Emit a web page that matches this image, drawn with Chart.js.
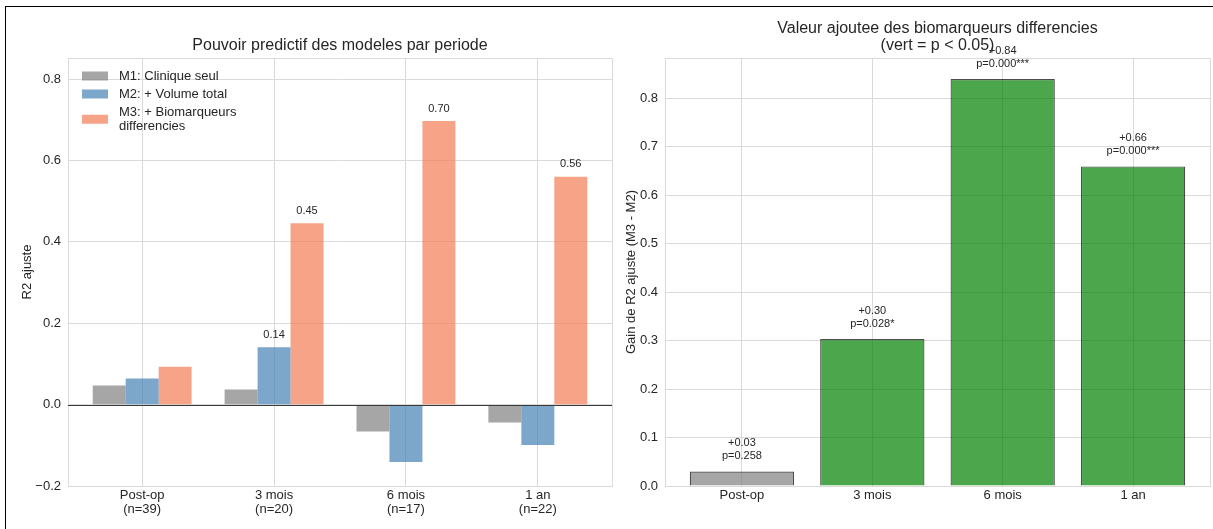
<!DOCTYPE html>
<html lang="fr">
<head>
<meta charset="UTF-8">
<title>Pouvoir predictif et valeur ajoutee</title>
<script src="https://cdn.jsdelivr.net/npm/chart.js"></script>
<style>
  body { margin: 0; background: #fff; width: 1213px; height: 529px; overflow: hidden; position: relative; }
  .cadre { position: absolute; left: 5px; top: 6px; width: 1240px; height: 560px; border: 1px solid #000; }
  #graphGauche { position: absolute; left: 0; top: 0; }
  #graphDroite { position: absolute; left: 615px; top: 0; }
</style>
</head>
<body>
<div class="cadre"></div>
<canvas id="graphGauche" width="615" height="529"></canvas>
<canvas id="graphDroite" width="598" height="529"></canvas>

<script>
// donnees
const periodes = ['Post-op', '3 mois', '6 mois', '1 an'];
const effectifs = ['(n=39)', '(n=20)', '(n=17)', '(n=22)'];
const r2Clinique = [0.047, 0.037, -0.066, -0.044];
const r2Volume = [0.064, 0.141, -0.141, -0.099];
const r2Biomarqueurs = [0.093, 0.446, 0.697, 0.560];
const gainR2 = [0.030, 0.303, 0.839, 0.659];
const pValeurs = [0.258, 0.028, 0.000, 0.000];
const ticksGauche = [-0.2, 0.0, 0.2, 0.4, 0.6, 0.8];
const ticksDroite = [0.0, 0.1, 0.2, 0.3, 0.4, 0.5, 0.6, 0.7, 0.8];

const POLICE = '"Liberation Sans", Arial, sans-serif';
const TEXTE = '#262626';
const GRILLE = '#dadada';
Chart.defaults.font.family = POLICE;
Chart.defaults.color = TEXTE;

function etoiles(p) {
    if (p < 0.001) return '***';
    if (p < 0.01) return '**';
    if (p < 0.05) return '*';
    return '';
}

// cadre haut + droite du graphique (les axes font gauche + bas)
const cadrePlugin = {
    id: 'cadre',
    beforeDatasetsDraw(chart) {
        const { ctx, chartArea: a } = chart;
        ctx.save();
        ctx.strokeStyle = GRILLE;
        ctx.lineWidth = 1;
        ctx.beginPath();
        ctx.moveTo(a.left, a.top + 0.5);
        ctx.lineTo(a.right + 0.5, a.top + 0.5);
        ctx.lineTo(a.right + 0.5, a.bottom);
        ctx.stroke();
        ctx.restore();
    }
};

// ---------- graphique de gauche ----------
const gauchePlugin = {
    id: 'gaucheExtras',
    afterDatasetsDraw(chart) {
        const { ctx, chartArea: a, scales } = chart;
        ctx.save();
        // ligne du zero
        const y0 = Math.round(scales.y.getPixelForValue(0)) + 0.5;
        ctx.strokeStyle = '#3a3a3a';
        ctx.lineWidth = 1;
        ctx.beginPath();
        ctx.moveTo(a.left, y0);
        ctx.lineTo(a.right, y0);
        ctx.stroke();

        // valeurs au-dessus des barres > 0.1
        ctx.font = '11px ' + POLICE;
        ctx.fillStyle = TEXTE;
        ctx.textAlign = 'center';
        ctx.textBaseline = 'bottom';
        chart.data.datasets.forEach((ds, i) => {
            const meta = chart.getDatasetMeta(i);
            meta.data.forEach((bar, j) => {
                const v = ds.data[j].y;
                if (v > 0.1) ctx.fillText(v.toFixed(2), bar.x, bar.y - 7);
            });
        });

        // titre
        ctx.font = '16px ' + POLICE;
        ctx.textBaseline = 'middle';
        ctx.fillText('Pouvoir predictif des modeles par periode', (a.left + a.right) / 2, 46);

        // legende
        const entrees = [
            { c: chart.data.datasets[0].backgroundColor, l: ['M1: Clinique seul'] },
            { c: chart.data.datasets[1].backgroundColor, l: ['M2: + Volume total'] },
            { c: chart.data.datasets[2].backgroundColor, l: ['M3: + Biomarqueurs', 'differencies'] }
        ];
        ctx.font = '13px ' + POLICE;
        ctx.textAlign = 'left';
        let y = 76;
        entrees.forEach(e => {
            const h = e.l.length * 14.5;
            const yc = y + (e.l.length - 1) * 7.25;
            ctx.fillStyle = e.c;
            ctx.fillRect(a.left + 14, yc - 4.5, 26, 9);
            ctx.fillStyle = TEXTE;
            e.l.forEach((t, k) => ctx.fillText(t, a.left + 51, y + k * 14.5));
            y += h + 3.5;
        });
        ctx.restore();
    }
};

function versPoints(valeurs) {
    return valeurs.map((v, i) => ({ x: i, y: v }));
}

new Chart(document.getElementById('graphGauche'), {
    type: 'bar',
    data: {
        datasets: [
            { label: 'M1: Clinique seul', data: versPoints(r2Clinique), backgroundColor: 'rgba(128,128,128,0.7)' },
            { label: 'M2: + Volume total', data: versPoints(r2Volume), backgroundColor: 'rgba(70,130,180,0.7)' },
            { label: 'M3: + Biomarqueurs differencies', data: versPoints(r2Biomarqueurs), backgroundColor: 'rgba(244,124,84,0.7)' }
        ]
    },
    options: {
        responsive: false,
        animation: false,
        categoryPercentage: 0.75,
        barPercentage: 1.0,
        borderWidth: 0,
        layout: { padding: { left: 0, right: 3, top: 58, bottom: 0 } },
        plugins: { legend: { display: false }, tooltip: { enabled: false } },
        scales: {
            x: {
                type: 'linear',
                min: -0.5625,
                max: 3.5625,
                offset: false,
                afterBuildTicks: s => { s.ticks = periodes.map((p, i) => ({ value: i })); },
                afterFit: s => { s.height = 43; },
                ticks: {
                    autoSkip: false,
                    maxRotation: 0,
                    padding: 2,
                    font: { size: 13, lineHeight: 1.08 },
                    callback: v => [periodes[v], effectifs[v]]
                },
                grid: { color: GRILLE, drawTicks: false, offset: false },
                border: { color: GRILLE }
            },
            y: {
                min: -0.2,
                max: 0.852,
                afterBuildTicks: s => { s.ticks = ticksGauche.map(v => ({ value: v })); },
                afterFit: s => { s.width = 68; },
                ticks: {
                    padding: 7,
                    font: { size: 13 },
                    callback: v => (v < 0 ? '\u2212' : '') + Math.abs(v).toFixed(1)
                },
                grid: { color: GRILLE, drawTicks: false },
                border: { color: GRILLE },
                title: { display: true, text: 'R2 ajuste', font: { size: 13 }, padding: { top: 20 } }
            }
        }
    },
    plugins: [cadrePlugin, gauchePlugin]
});

// ---------- graphique de droite ----------
const droitePlugin = {
    id: 'droiteExtras',
    afterDatasetsDraw(chart) {
        const { ctx, chartArea: a } = chart;
        ctx.save();
        ctx.fillStyle = TEXTE;
        ctx.textAlign = 'center';
        ctx.textBaseline = 'middle';
        ctx.font = '16px ' + POLICE;
        const cx = (a.left + a.right) / 2;
        ctx.fillText('Valeur ajoutee des biomarqueurs differencies', cx, 29);
        ctx.fillText('(vert = p < 0.05)', cx, 46);

        ctx.font = '11px ' + POLICE;
        const meta = chart.getDatasetMeta(0);
        meta.data.forEach((bar, j) => {
            const g = gainR2[j];
            const p = pValeurs[j];
            ctx.fillText('+' + g.toFixed(2), bar.x, bar.y - 28);
            ctx.fillText('p=' + p.toFixed(3) + etoiles(p), bar.x, bar.y - 15);
        });
        ctx.restore();
    }
};

new Chart(document.getElementById('graphDroite'), {
    type: 'bar',
    data: {
        datasets: [{
            label: 'Gain de R2 ajuste',
            data: versPoints(gainR2),
            backgroundColor: pValeurs.map(p => p < 0.05 ? 'rgba(0,128,0,0.7)' : 'rgba(128,128,128,0.7)'),
            borderColor: 'rgba(0,0,0,0.7)',
            borderWidth: 1.2
        }]
    },
    options: {
        responsive: false,
        animation: false,
        categoryPercentage: 0.8,
        barPercentage: 1.0,
        layout: { padding: { left: 0, right: 3, top: 58, bottom: 0 } },
        plugins: { legend: { display: false }, tooltip: { enabled: false } },
        scales: {
            x: {
                type: 'linear',
                min: -0.59,
                max: 3.59,
                offset: false,
                afterBuildTicks: s => { s.ticks = periodes.map((p, i) => ({ value: i })); },
                afterFit: s => { s.height = 43; },
                ticks: {
                    autoSkip: false,
                    maxRotation: 0,
                    padding: 2,
                    font: { size: 13 },
                    callback: v => periodes[v]
                },
                grid: { color: GRILLE, drawTicks: false, offset: false },
                border: { color: GRILLE }
            },
            y: {
                min: 0,
                max: 0.8825,
                afterBuildTicks: s => { s.ticks = ticksDroite.map(v => ({ value: v })); },
                afterFit: s => { s.width = 50; },
                ticks: {
                    padding: 7,
                    font: { size: 13 },
                    callback: v => v.toFixed(1)
                },
                grid: { color: GRILLE, drawTicks: false },
                border: { color: GRILLE },
                title: { display: true, text: 'Gain de R2 ajuste (M3 - M2)', font: { size: 13 }, padding: { top: 9 } }
            }
        }
    },
    plugins: [cadrePlugin, droitePlugin]
});
</script>
</body>
</html>
